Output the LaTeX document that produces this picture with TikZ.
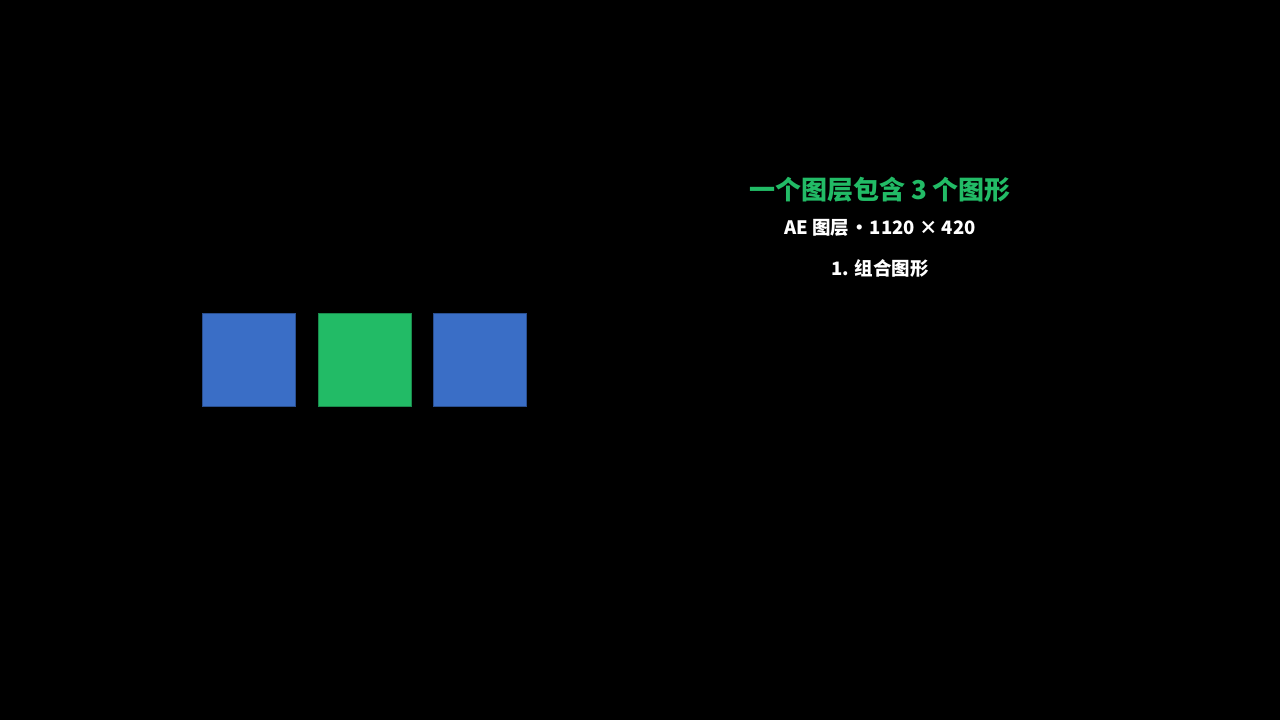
\documentclass[tikz,border=0pt]{standalone}
\usepackage{fontspec}
\newfontfamily\cjk{Noto Sans CJK SC}
\definecolor{sqblue}{HTML}{3A6EC6}
\definecolor{sqblueb}{HTML}{2A4F8F}
\definecolor{sqgreen}{HTML}{22BB66}
\definecolor{sqgreenb}{HTML}{1A8A4C}
\begin{document}
\begin{tikzpicture}[x=1pt,y=-1pt,
  sq/.style={minimum width=93pt,minimum height=93pt,inner sep=0pt,line width=0.8pt},
  title/.style={font=\cjk\bfseries\fontsize{26}{30}\selectfont,text=sqgreen,inner sep=0pt},
  sub/.style={font=\cjk\bfseries\fontsize{18.5}{22}\selectfont,text=white,inner sep=0pt}]
\fill[black] (0,0) rectangle (1280,720);
\useasboundingbox (0,0) rectangle (1280,720);
\node[sq,fill=sqblue,draw=sqblueb] (b1) at (249,359.5) {};
\node[sq,fill=sqgreen,draw=sqgreenb] (g1) at (364.5,359.5) {};
\node[sq,fill=sqblue,draw=sqblueb] (b2) at (480,359.5) {};
\node[title] (t1) at (880,190) {一个图层包含 3 个图形};
\node[sub] (t2) at (880,228) {AE 图层\kern1pt·\kern1pt 1120 × 420};
\node[sub] (t3) at (880,268) {1. 组合图形};
\end{tikzpicture}
\end{document}
